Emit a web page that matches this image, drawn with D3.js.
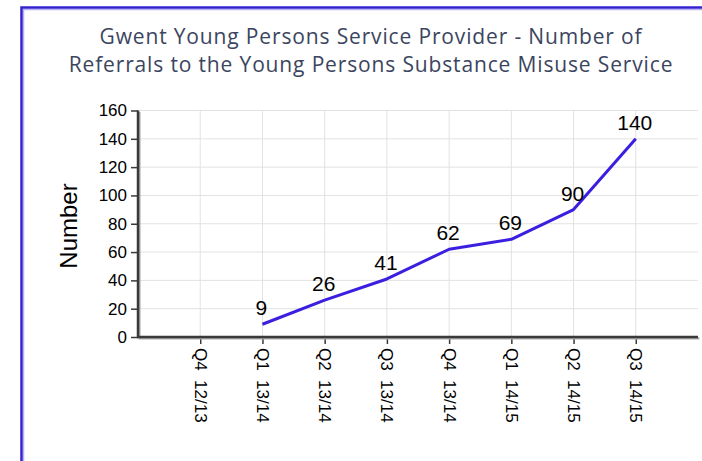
<!DOCTYPE html>
<html>
<head>
<meta charset="utf-8">
<script src="https://cdn.jsdelivr.net/npm/d3@7"></script>
<style>
  body { margin: 0; background: #fff; }
  svg { display: block; }
</style>
</head>
<body>
<div id="chart"></div>
<script>
// chart data
var titleLines = ['Gwent Young Persons Service Provider - Number of',
                  'Referrals to the Young Persons Substance Misuse Service'];
var quarters = ['Q4  12/13', 'Q1  13/14', 'Q2  13/14', 'Q3  13/14',
                'Q4  13/14', 'Q1  14/15', 'Q2  14/15', 'Q3  14/15'];
var referrals = [null, 9, 26, 41, 62, 69, 90, 140];
var yTicks = [0, 20, 40, 60, 80, 100, 120, 140, 160];
var yLabel = 'Number';

var width = 702;
var height = 461;
var lineColor = '#3a1fe0';
var gridColor = '#e2e2e2';
var axisColor = '#3a3a3a';
var font = '"Liberation Sans", Arial, sans-serif';

var svg = d3.select('#chart')
  .append('svg')
    .attr('width', width)
    .attr('height', height);

// outer frame (blue, runs off the right and bottom edge)
svg.append('rect')
    .attr('x', 23.5).attr('y', 9.5)
    .attr('width', width).attr('height', height)
    .style('fill', 'none')
    .style('stroke', '#b9b2f2')
    .style('stroke-width', 1.5);
svg.append('rect')
    .attr('x', 21.5).attr('y', 7.5)
    .attr('width', width).attr('height', height)
    .style('fill', 'none')
    .style('stroke', '#3422cf')
    .style('stroke-width', 2.5);

// title
svg.append('text')
    .attr('x', 371)
    .attr('y', 44)
    .style('font-family', '"Open Sans", sans-serif')
    .style('font-size', '21px')
    .style('letter-spacing', '0.85px')
    .style('fill', '#3b4560')
    .attr('text-anchor', 'middle')
  .selectAll('tspan')
  .data(titleLines)
  .enter()
  .append('tspan')
    .attr('x', 371)
    .attr('dy', function(d, i) { return i === 0 ? 0 : 28; })
    .text(function(d) { return d; });

// scales: index -1 .. 8 spans the plot width
var x = d3.scaleLinear().domain([-1, 8]).range([138, 698]);
var y = d3.scaleLinear().domain([0, 160]).range([337, 110.5]);

// grid
svg.append('g')
  .selectAll('line')
  .data(yTicks.slice(1))
  .enter()
  .append('line')
    .attr('x1', x(-1)).attr('x2', x(8))
    .attr('y1', function(d) { return y(d); })
    .attr('y2', function(d) { return y(d); })
    .style('stroke', gridColor);
svg.append('g')
  .selectAll('line')
  .data(quarters)
  .enter()
  .append('line')
    .attr('x1', function(d, i) { return x(i); })
    .attr('x2', function(d, i) { return x(i); })
    .attr('y1', y(160)).attr('y2', y(0))
    .style('stroke', gridColor);

// y axis
var yAxis = d3.axisLeft(y).tickValues(yTicks).tickSize(7).tickPadding(4);
var gy = svg.append('g')
    .attr('transform', 'translate(' + x(-1) + ',0)')
    .call(yAxis);
gy.select('.domain').remove();
gy.selectAll('.tick line').style('stroke', axisColor).style('stroke-width', 1.5);
gy.selectAll('.tick text')
    .style('font-family', font)
    .style('font-size', '17px')
    .style('fill', '#000');

// x axis
var xAxis = d3.axisBottom(x)
    .tickValues(d3.range(quarters.length))
    .tickFormat(function(i) { return quarters[i]; })
    .tickSize(7);
var gx = svg.append('g')
    .attr('transform', 'translate(0,' + y(0) + ')')
    .call(xAxis);
gx.select('.domain').remove();
gx.selectAll('.tick line').style('stroke', axisColor).style('stroke-width', 1.5);
gx.selectAll('.tick text')
    .attr('transform', 'rotate(90)')
    .attr('x', 11)
    .attr('y', 0)
    .attr('dy', '0.35em')
    .attr('text-anchor', 'start')
    .style('white-space', 'pre')
    .style('font-family', font)
    .style('font-size', '17px')
    .style('fill', '#000');

// axis lines with a soft shadow
var axisPath = 'M' + x(-1) + ',' + y(160) + 'V' + y(0) + 'H' + x(8);
svg.append('path')
    .attr('d', axisPath)
    .attr('transform', 'translate(1.5,1.5)')
    .style('fill', 'none')
    .style('stroke', '#a8a8a8')
    .style('stroke-width', 2);
svg.append('path')
    .attr('d', axisPath)
    .style('fill', 'none')
    .style('stroke', axisColor)
    .style('stroke-width', 2.5);

// y label
svg.append('text')
    .attr('transform', 'translate(77,226) rotate(-90)')
    .attr('text-anchor', 'middle')
    .style('font-family', font)
    .style('font-size', '24px')
    .style('fill', '#000')
    .text(yLabel);

// line
var pts = referrals.map(function(v, i) { return {i: i, v: v}; })
    .filter(function(d) { return d.v !== null; });
var line = d3.line()
    .x(function(d) { return x(d.i); })
    .y(function(d) { return y(d.v); });
svg.append('path')
    .datum(pts)
    .attr('d', line)
    .style('fill', 'none')
    .style('stroke', lineColor)
    .style('stroke-width', 3)
    .style('stroke-linejoin', 'round');

// value labels
svg.append('g')
  .selectAll('text')
  .data(pts)
  .enter()
  .append('text')
    .attr('x', function(d) { return x(d.i) - 1; })
    .attr('y', function(d) { return y(d.v) - 9; })
    .attr('text-anchor', 'middle')
    .style('font-family', font)
    .style('font-size', '21px')
    .style('fill', '#000')
    .text(function(d) { return d.v; });
</script>
</body>
</html>
